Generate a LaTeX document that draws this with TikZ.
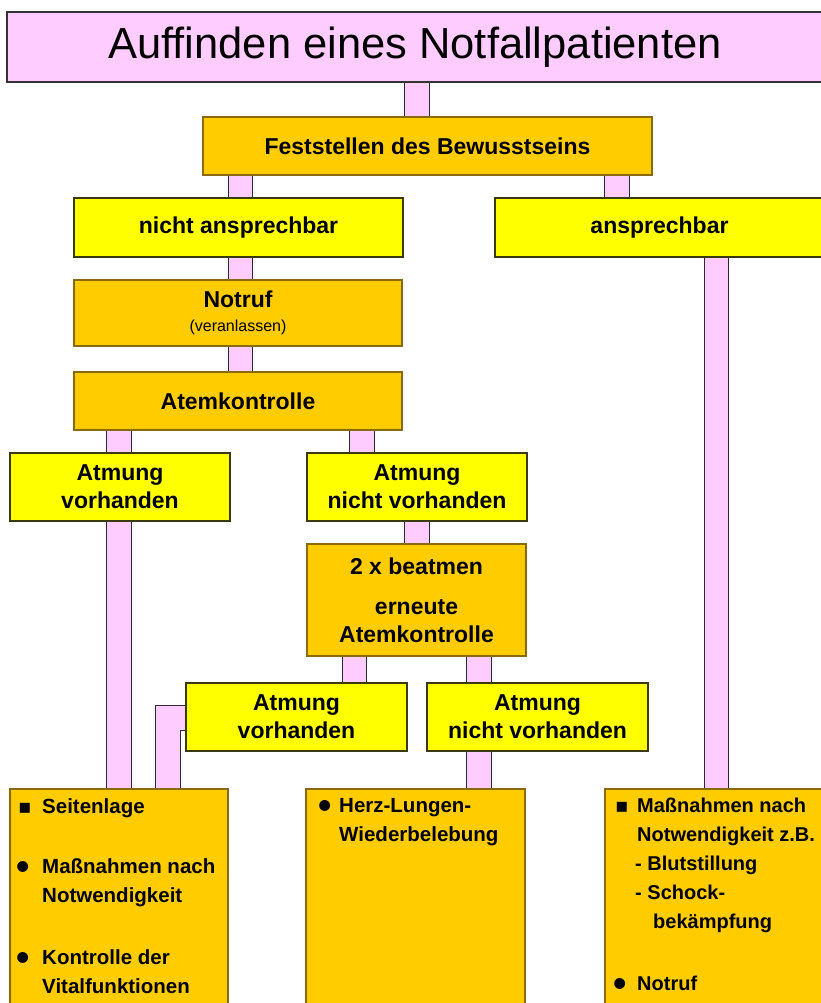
\documentclass[tikz,border=0pt]{standalone}
\usepackage{fontspec}
\setmainfont{Liberation Sans}
\newfontfamily\symfont{DejaVu Sans}
\usetikzlibrary{backgrounds}
\definecolor{pinkc}{HTML}{FFCCFF}
\definecolor{orangec}{HTML}{FFCC00}
\definecolor{yellowc}{HTML}{FFFF00}
\definecolor{yline}{HTML}{3A3A10}
\definecolor{oline}{HTML}{8A6A10}
\definecolor{tline}{HTML}{333333}
\definecolor{cline}{HTML}{2A2A2A}
\newcommand{\sqbul}[1]{\makebox[#1][l]{\smash{\symfont\fontsize{20}{20}\selectfont ▪}}}
\newcommand{\rdbul}[1]{\makebox[#1][l]{\hspace*{-2pt}\smash{\raisebox{-6pt}{\fontsize{38}{38}\selectfont •}}}}
\begin{document}
\begin{tikzpicture}[x=1pt,y=-1pt,
  box/.style={line width=1.5pt, inner sep=0pt, outer sep=0pt, anchor=north west, align=center, font=\bfseries\fontsize{23}{28}\selectfont},
  ybox/.style={box, fill=yellowc, draw=yline},
  obox/.style={box, fill=orangec, draw=oline},
  conn/.style={draw=cline, line width=1.2pt, double=pinkc, double distance=23.5pt, line join=miter},
  list/.style={anchor=north west, inner sep=0pt, align=left, font=\bfseries\fontsize{20.5}{29}\selectfont},
]
\useasboundingbox (0,0) rectangle (821,1003);
\clip (0,0) rectangle (821,1003);
% boxes
\node[box, fill=pinkc, draw=tline, minimum width=816pt, minimum height=70pt, font=\fontsize{43.5}{50}\selectfont] (title) at (7,12) {Auffinden eines Notfallpatienten};
\node[obox, minimum width=449pt, minimum height=58pt] (fest) at (203,117) {Feststellen des Bewusstseins};
\node[ybox, minimum width=329pt, minimum height=59pt] (nicht) at (74,198) {nicht ansprechbar};
\node[ybox, minimum width=329pt, minimum height=59pt] (ansp) at (495,198) {ansprechbar};
\node[obox, minimum width=328pt, minimum height=66pt] (notruf) at (74,280) {Notruf\\[-4pt]{\mdseries\fontsize{16}{18}\selectfont (veranlassen)}};
\node[obox, minimum width=328pt, minimum height=58pt] (atem) at (74,372) {Atemkontrolle};
\node[ybox, minimum width=220pt, minimum height=68pt] (av1) at (10,453) {Atmung\\vorhanden};
\node[ybox, minimum width=220pt, minimum height=68pt] (anv1) at (307,453) {Atmung\\nicht vorhanden};
\node[obox, minimum width=219pt, minimum height=112pt] (beat) at (307,544) {2 x beatmen\\[12pt]erneute\\Atemkontrolle};
\node[ybox, minimum width=221pt, minimum height=68pt] (av2) at (186,683) {Atmung\\vorhanden};
\node[ybox, minimum width=221pt, minimum height=68pt] (anv2) at (427,683) {Atmung\\nicht vorhanden};
\node[obox, minimum width=218pt, minimum height=260pt] (bl) at (10,789) {};
\node[obox, minimum width=219pt, minimum height=260pt] (bm) at (306,789) {};
\node[obox, minimum width=260pt, minimum height=260pt] (br) at (605,789) {};
% list texts
\node[list] (tl) at (18,798) {\sqbul{24pt}Seitenlage\\[31pt]\rdbul{24pt}Maßnahmen nach\\\hspace*{24pt}Notwendigkeit\\[33pt]\rdbul{24pt}Kontrolle der\\\hspace*{24pt}Vitalfunktionen};
\node[list] (tm) at (320,798) {\rdbul{19pt}Herz-Lungen-\\\hspace*{19pt}Wiederbelebung};
\node[list, font=\bfseries\fontsize{20}{29}\selectfont] (tr) at (615,798) {\sqbul{22pt}Maßnahmen nach\\\hspace*{22pt}Notwendigkeit z.B.\\\hspace*{20pt}- Blutstillung\\\hspace*{20pt}- Schock-\\\hspace*{38pt}bekämpfung\\[33pt]\rdbul{22pt}Notruf};
% connector x positions
\coordinate (xa) at (417,0);
\coordinate (xb) at (240.5,0);
\coordinate (xc) at (617,0);
\coordinate (xd) at (119,0);
\coordinate (xe) at (362,0);
\coordinate (xf) at (354.5,0);
\coordinate (xg) at (479,0);
\coordinate (xh) at (716.5,0);
\coordinate (lj) at (168,718);
\begin{scope}[on background layer]
\fill[white] (0,0) rectangle (821,1003);
\draw[conn] (title.south -| xa) -- (fest.north -| xa);
\draw[conn] (fest.south -| xb) -- (nicht.north -| xb);
\draw[conn] (fest.south -| xc) -- (ansp.north -| xc);
\draw[conn] (nicht.south -| xb) -- (notruf.north -| xb);
\draw[conn] (notruf.south -| xb) -- (atem.north -| xb);
\draw[conn] (atem.south -| xd) -- (av1.north -| xd);
\draw[conn] (atem.south -| xe) -- (anv1.north -| xe);
\draw[conn] (av1.south -| xd) -- (bl.north -| xd);
\draw[conn] (anv1.south -| xa) -- (beat.north -| xa);
\draw[conn] (beat.south -| xf) -- (av2.north -| xf);
\draw[conn] (beat.south -| xg) -- (anv2.north -| xg);
\draw[conn] (anv2.south -| xg) -- (bm.north -| xg);
\draw[conn] (ansp.south -| xh) -- (br.north -| xh);
\draw[conn] (av2.west |- lj) -- (lj) -- (lj |- bl.north);
\end{scope}
\end{tikzpicture}
\end{document}
